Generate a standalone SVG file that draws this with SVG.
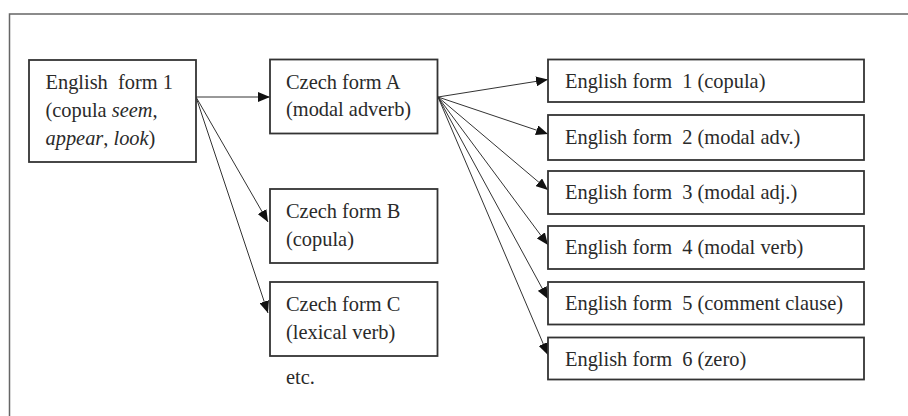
<svg xmlns="http://www.w3.org/2000/svg" width="908" height="416" viewBox="0 0 908 416">
<style>
.box{fill:#fff;stroke:#333;stroke-width:1.8}
.t{font-family:"Liberation Serif","Times New Roman",serif;font-size:20.4px;fill:#2a2a2a;white-space:pre}
.i{font-style:italic}
.c{stroke:#333;stroke-width:1;fill:none;marker-end:url(#ah)}
</style>
<defs>
<marker id="ah" viewBox="0 0 12 10" refX="12" refY="5" markerWidth="12" markerHeight="10" markerUnits="userSpaceOnUse" orient="auto">
<path d="M0,0 L12,5 L0,10 Z" fill="#111"/>
</marker>
</defs>
<rect x="0" y="0" width="908" height="416" fill="#fff"/>
<rect x="9.5" y="14" width="920" height="420" fill="none" stroke="#666" stroke-width="1.5"/>
<g id="connectors">
<line class="c" x1="196" y1="97" x2="270" y2="97"/>
<line class="c" x1="196" y1="97" x2="268" y2="222"/>
<line class="c" x1="196" y1="97" x2="268" y2="313"/>
<line class="c" x1="438" y1="97" x2="548" y2="79.5"/>
<line class="c" x1="438" y1="97" x2="548" y2="134"/>
<line class="c" x1="438" y1="97" x2="548" y2="190"/>
<line class="c" x1="438" y1="97" x2="548" y2="245"/>
<line class="c" x1="438" y1="97" x2="548" y2="299"/>
<line class="c" x1="438" y1="97" x2="548" y2="355"/>
</g>
<g id="english1">
<rect class="box" x="29" y="60" width="167" height="102"/>
<text class="t" x="45.5" y="88.5">English  form 1</text>
<text class="t" x="45.5" y="116.5">(copula <tspan class="i">seem</tspan>,</text>
<text class="t" x="45.5" y="144.5"><tspan class="i">appear</tspan>, <tspan class="i">look</tspan>)</text>
</g>
<g id="czechA">
<rect class="box" x="270" y="59.5" width="167.5" height="74"/>
<text class="t" x="286" y="89">Czech form A</text>
<text class="t" x="286" y="116">(modal adverb)</text>
</g>
<g id="czechB">
<rect class="box" x="270" y="189" width="167.5" height="74"/>
<text class="t" x="286" y="218">Czech form B</text>
<text class="t" x="286" y="246">(copula)</text>
</g>
<g id="czechC">
<rect class="box" x="270" y="282" width="167.5" height="74"/>
<text class="t" x="286" y="311">Czech form C</text>
<text class="t" x="286" y="339">(lexical verb)</text>
</g>
<text id="etc" class="t" x="286" y="384">etc.</text>
<g id="eng1">
<rect class="box" x="548" y="59.5" width="316" height="42.5"/>
<text class="t" x="565" y="88">English form  1 (copula)</text>
</g>
<g id="eng2">
<rect class="box" x="548" y="115" width="316" height="45"/>
<text class="t" x="565" y="143.5">English form  2 (modal adv.)</text>
</g>
<g id="eng3">
<rect class="box" x="548" y="171" width="316" height="43"/>
<text class="t" x="565" y="199">English form  3 (modal adj.)</text>
</g>
<g id="eng4">
<rect class="box" x="548" y="226" width="316" height="43"/>
<text class="t" x="565" y="254">English form  4 (modal verb)</text>
</g>
<g id="eng5">
<rect class="box" x="548" y="282" width="316" height="42.5"/>
<text class="t" x="565" y="310">English form  5 (comment clause)</text>
</g>
<g id="eng6">
<rect class="box" x="548" y="337.5" width="316" height="42"/>
<text class="t" x="565" y="365.5">English form  6 (zero)</text>
</g>
</svg>
